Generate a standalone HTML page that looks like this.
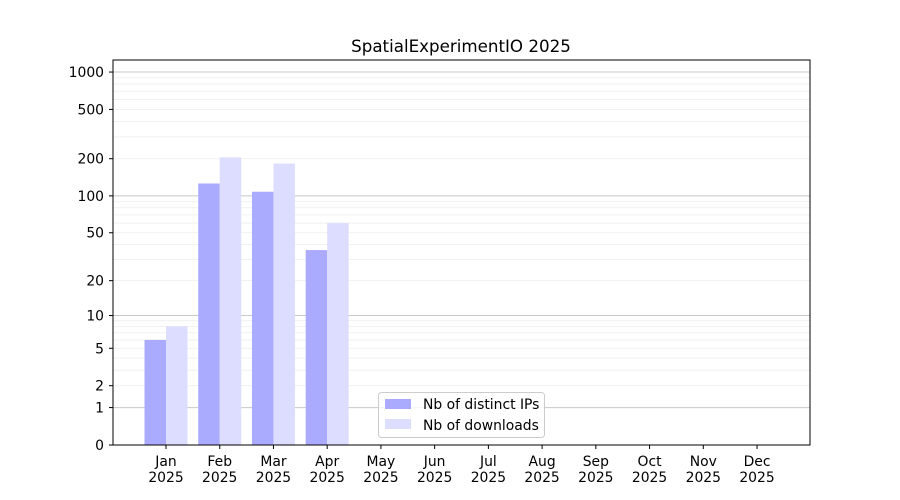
<!DOCTYPE html>
<html><head><meta charset="utf-8"><style>
body{margin:0;background:#fff;}
svg{display:block;font-family:"DejaVu Sans","Liberation Sans",sans-serif;}
</style></head><body>
<svg id="s" width="900" height="500" xmlns="http://www.w3.org/2000/svg">
<rect width="900" height="500" fill="#fff"/>
<g id="grid"></g>
<g id="bars"></g>
<rect x="113" y="60" width="697" height="385" fill="none" stroke="#000" stroke-width="1"/>
<g id="ticks" font-size="13.9" fill="#000"></g>
<text x="461" y="52" font-size="16.7" text-anchor="middle">SpatialExperimentIO 2025</text>
<g>
<rect x="378.5" y="392.5" width="166" height="45" rx="3" fill="#fff" fill-opacity="0.8" stroke="#ccc"/>
<rect x="385" y="399" width="26" height="10" fill="#aaaaff"/>
<text x="423" y="409" font-size="13.9">Nb of distinct IPs</text>
<rect x="385" y="419" width="26" height="10" fill="#ddddff"/>
<text x="423" y="430" font-size="13.9">Nb of downloads</text>
</g>
</svg>
<script>
var NS="http://www.w3.org/2000/svg";
function Y(v){return 445-124.3*Math.log10(1+v);}
function el(p,t,a,txt){var e=document.createElementNS(NS,t);for(var k in a)e.setAttribute(k,a[k]);if(txt!=null)e.textContent=txt;document.getElementById(p).appendChild(e);return e;}
[1,10,100,1000].forEach(function(d){
 for(var m=1;m<10;m++){var v=d*m;if(v>1300)break;var y=Y(v);
  el("grid","line",{x1:113,x2:810,y1:y,y2:y,stroke:m==1?"#c8c8c8":"#eeeeee","stroke-width":m==1?1:0.8});}
});
[0,1,2,5,10,20,50,100,200,500,1000].forEach(function(v){var y=Y(v);
 el("ticks","line",{x1:109,x2:113,y1:y,y2:y,stroke:"#000"});
 el("ticks","text",{x:104,y:y+5,"text-anchor":"end"},String(v));});
var months=["Jan","Feb","Mar","Apr","May","Jun","Jul","Aug","Sep","Oct","Nov","Dec"];
months.forEach(function(m,i){var x=166+i*53.73;
 el("ticks","line",{x1:x,x2:x,y1:445,y2:449,stroke:"#000"});
 el("ticks","text",{x:x,y:466,"text-anchor":"middle"},m);
 el("ticks","text",{x:x,y:482,"text-anchor":"middle"},"2025");});
var ips=[6,126,108,36],dl=[8,205,183,60];
ips.forEach(function(v,i){var x=166+i*53.73;
 el("bars","rect",{x:x-21.5,y:Y(v),width:21.5,height:445-Y(v),fill:"#aaaaff"});
 el("bars","rect",{x:x,y:Y(dl[i]),width:21.5,height:445-Y(dl[i]),fill:"#ddddff"});});
</script>
</body></html>
